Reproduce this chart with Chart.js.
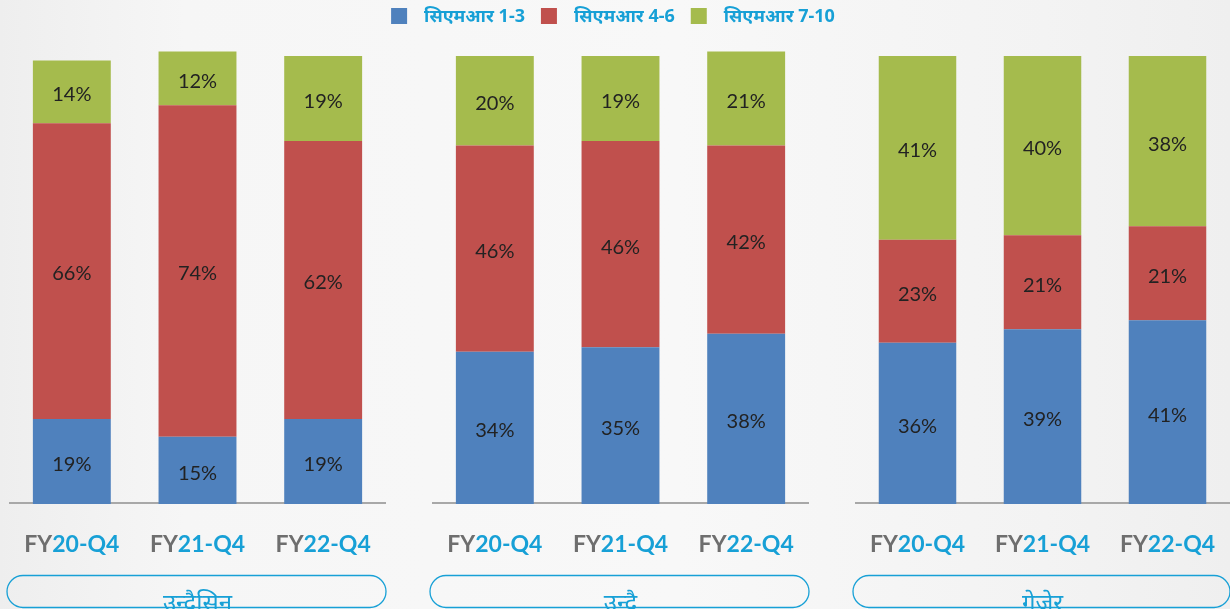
<!DOCTYPE html>
<html><head><meta charset="utf-8">
<script src="https://cdn.jsdelivr.net/npm/chart.js@4.4.1/dist/chart.umd.min.js"></script>
<style>
html,body{margin:0;padding:0;width:1230px;height:609px;overflow:hidden;background:#f6f6f6;}
#wrap{position:relative;width:1230px;height:609px;background:linear-gradient(90deg,#eeeeee 0%,#f6f6f6 15%,#f8f8f8 55%,#f3f3f3 85%,#efefef 100%);}
canvas{position:absolute;left:0;top:0;}
</style></head><body>
<div id="wrap"><canvas id="c0" width="1230" height="609"></canvas><canvas id="c1" width="1230" height="609"></canvas><canvas id="c2" width="1230" height="609"></canvas></div>
<script>
// ---- data ----
const seriesNames = ['सिएमआर 1-3', 'सिएमआर 4-6', 'सिएमआर 7-10'];
const categories = ['FY20-Q4', 'FY21-Q4', 'FY22-Q4'];
const groups = ['उन्दैसिन', 'उन्दै', 'गेजेर'];
const undaisinCmr13 = [19, 15, 19];
const undaisinCmr46 = [66, 74, 62];
const undaisinCmr710 = [14, 12, 19];
const undaiCmr13 = [34, 35, 38];
const undaiCmr46 = [46, 46, 42];
const undaiCmr710 = [20, 19, 21];
const gejerCmr13 = [36, 39, 41];
const gejerCmr46 = [23, 21, 21];
const gejerCmr710 = [41, 40, 38];
const panelData = [
  [undaisinCmr13, undaisinCmr46, undaisinCmr710],
  [undaiCmr13, undaiCmr46, undaiCmr710],
  [gejerCmr13, gejerCmr46, gejerCmr710]
];

// ---- styles ----
const colors = ['#4F81BD', '#C0504D', '#A5BB4D'];
const blueText = '#17A0D6';
const grayText = '#6E6E6E';
const panelLeft = [9, 432, 855];
const panelW = 377;
const areaTop = 56, areaBottom = 504;
const W = 1230, H = 609;

const decor = {
  id: 'decor',
  beforeDatasetsDraw(chart) {
    const ctx = chart.ctx, a = chart.chartArea;
    ctx.save();
    ctx.strokeStyle = '#A8A8A8';
    ctx.lineWidth = 2;
    ctx.beginPath();
    ctx.moveTo(a.left, a.bottom - 1);
    ctx.lineTo(a.right, a.bottom - 1);
    ctx.stroke();
    ctx.restore();
  },
  afterDraw(chart) {
    const ctx = chart.ctx, a = chart.chartArea;
    const idx = chart.options.panelIndex;
    ctx.save();
    // data labels
    ctx.font = '20px Lato, "Open Sans", sans-serif';
    ctx.fillStyle = '#222222';
    ctx.textAlign = 'center';
    ctx.textBaseline = 'middle';
    chart.data.datasets.forEach((ds, di) => {
      const meta = chart.getDatasetMeta(di);
      meta.data.forEach((bar, j) => {
        const v = ds.data[j];
        ctx.fillText(v + '%', bar.x, (bar.y + bar.base) / 2 + 3);
      });
    });
    // x category labels (two colours)
    ctx.font = 'bold 23px Lato, "Open Sans", sans-serif';
    ctx.textAlign = 'left';
    const xs = chart.scales.x;
    chart.data.labels.forEach((lab, j) => {
      const p1 = lab.slice(0, 2), p2 = lab.slice(2);
      const w1 = ctx.measureText(p1).width, w2 = ctx.measureText(p2).width;
      const cx = xs.getPixelForValue(j);
      const x0 = cx - (w1 + w2) / 2;
      ctx.fillStyle = grayText;
      ctx.fillText(p1, x0, 545);
      ctx.fillStyle = blueText;
      ctx.fillText(p2, x0 + w1, 545);
    });
    // group pill
    ctx.strokeStyle = blueText;
    ctx.lineWidth = 1.3;
    ctx.beginPath();
    ctx.roundRect(a.left - 2, 575.5, a.right - a.left + 2, 32, 16);
    ctx.stroke();
    ctx.fillStyle = blueText;
    ctx.textAlign = 'center';
    ctx.font = '24px "Noto Sans", Lato, sans-serif';
    ctx.textBaseline = 'alphabetic';
    ctx.fillText(groups[idx], (a.left + a.right) / 2, 611);
    // legend (drawn once)
    if (idx === 0) {
      ctx.font = 'bold 18px "Noto Sans", Lato, sans-serif';
      ctx.textAlign = 'left';
      ctx.textBaseline = 'middle';
      const items = chart.data.datasets.map(ds => ({ t: ds.label, c: ds.backgroundColor, w: ctx.measureText(ds.label).width }));
      const gapBox = 17, gapItem = 16, box = 16;
      const total = items.reduce((s, it) => s + box + gapBox + it.w, 0) + gapItem * (items.length - 1);
      let x = 613 - total / 2;
      items.forEach(it => {
        ctx.fillStyle = it.c;
        ctx.fillRect(x, 8, box, box);
        ctx.fillStyle = blueText;
        ctx.fillText(it.t, x + box + gapBox, 17);
        x += box + gapBox + it.w + gapItem;
      });
    }
    ctx.restore();
  }
};

panelData.forEach((series, i) => {
  new Chart(document.getElementById('c' + i), {
    type: 'bar',
    data: {
      labels: categories,
      datasets: series.map((d, k) => ({
        label: seriesNames[k], data: d, backgroundColor: colors[k],
        borderWidth: 0, categoryPercentage: 1, barPercentage: 0.62, clip: false
      }))
    },
    options: {
      panelIndex: i,
      responsive: false, animation: false, devicePixelRatio: 1,
      layout: { padding: { left: panelLeft[i], right: W - panelLeft[i] - panelW, top: areaTop, bottom: H - areaBottom } },
      scales: {
        x: { stacked: true, display: false },
        y: { stacked: true, display: false, min: 0, max: 100 }
      },
      plugins: { legend: { display: false }, tooltip: { enabled: false } }
    },
    plugins: [decor]
  });
});
</script>
</body></html>
